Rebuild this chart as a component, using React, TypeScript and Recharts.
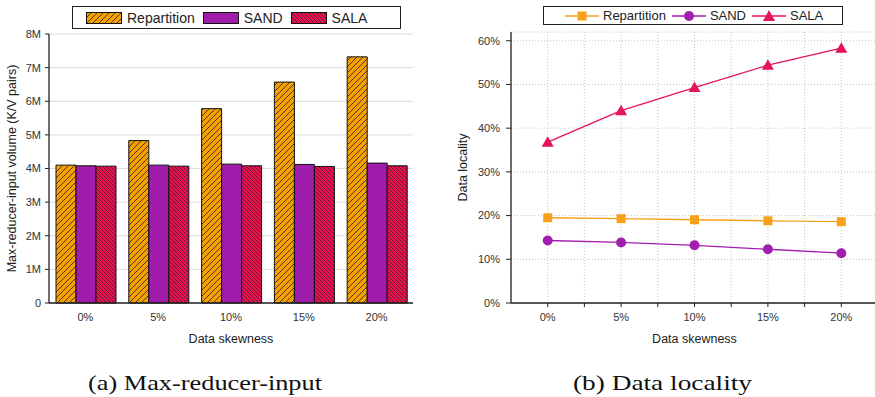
import React from 'react';
import {
  BarChart,
  Bar,
  LineChart,
  Line,
  XAxis,
  YAxis,
  CartesianGrid,
} from 'recharts';

// skew levels shared by both panels
const skewLevels = [0, 5, 10, 15, 20];
const skewLabels = ['0%', '5%', '10%', '15%', '20%'];

// (a) max reducer input, millions of K/V pairs
const repartitionVolume = [4.1, 4.83, 5.78, 6.57, 7.32];
const sandVolume = [4.08, 4.1, 4.13, 4.12, 4.16];
const salaVolume = [4.07, 4.07, 4.08, 4.06, 4.08];
const volumeTicks = [0, 1, 2, 3, 4, 5, 6, 7, 8];

// (b) data locality, percent
const repartitionLocality = [19.5, 19.3, 19.05, 18.8, 18.6];
const sandLocality = [14.3, 13.85, 13.2, 12.3, 11.4];
const salaLocality = [36.8, 44.0, 49.3, 54.4, 58.3];
const localityTicks = [0, 10, 20, 30, 40, 50, 60];
const skewGridTicks = [0, 2.5, 5, 7.5, 10, 12.5, 15, 17.5, 20, 22.5];

const ORANGE = '#F6A000';
const PURPLE = '#A01CAA';
const RED = '#E8104F';
const LINE_ORANGE = '#F7A11A';
const LINE_PURPLE = '#A21EB0';
const LINE_RED = '#E5135A';

const FONT = '"Liberation Sans", Arial, sans-serif';
const SERIF = '"Liberation Serif", "DejaVu Serif", serif';
const tickStyle = { fontSize: 11, fill: '#333', fontFamily: FONT };
const titleStyle = { fontSize: 12.5, fill: '#222', fontFamily: FONT };

const volumeData = skewLabels.map((name, i) => ({
  name,
  repartition: repartitionVolume[i],
  sand: sandVolume[i],
  sala: salaVolume[i],
}));

const localityData = skewLevels.map((skew, i) => ({
  skew,
  repartition: repartitionLocality[i],
  sand: sandLocality[i],
  sala: salaLocality[i],
}));

const SquareDot = (props: any) => {
  const { cx, cy, index } = props;
  return <rect key={`sq-${index}`} x={cx - 4.5} y={cy - 4.5} width={9} height={9} fill={LINE_ORANGE} />;
};

const TriangleDot = (props: any) => {
  const { cx, cy, index } = props;
  return (
    <polygon
      key={`tri-${index}`}
      points={`${cx},${cy - 6} ${cx - 6},${cy + 4.5} ${cx + 6},${cy + 4.5}`}
      fill={LINE_RED}
    />
  );
};

const Swatch = ({ fill }: { fill: string }) => (
  <svg width={36} height={12} style={{ display: 'block' }}>
    <rect x={0.5} y={0.5} width={35} height={11} fill={fill} stroke="#111" strokeWidth={1} />
  </svg>
);

const LineSwatch = ({ color, shape }: { color: string; shape: string }) => (
  <svg width={34} height={14} style={{ display: 'block' }}>
    <line x1={0} y1={7} x2={34} y2={7} stroke={color} strokeWidth={1.3} />
    {shape === 'square' && <rect x={12.5} y={2.5} width={9} height={9} fill={color} />}
    {shape === 'circle' && <circle cx={17} cy={7} r={5} fill={color} />}
    {shape === 'triangle' && <polygon points="17,1 11,12 23,12" fill={color} />}
  </svg>
);

export default function App() {
  return (
    <div
      style={{
        position: 'absolute',
        left: 0,
        top: 0,
        width: 875,
        height: 397,
        overflow: 'hidden',
        background: '#fff',
        fontFamily: FONT,
      }}
    >
      <svg width={0} height={0} style={{ position: 'absolute' }}>
        <defs>
          <pattern id="hatchOrange" patternUnits="userSpaceOnUse" width={6} height={6}>
            <rect width={6} height={6} fill={ORANGE} />
            <path d="M0,6 L6,0 M-1,1 L1,-1 M5,7 L7,5" stroke="#222" strokeWidth={0.8} />
          </pattern>
          <pattern id="hatchRed" patternUnits="userSpaceOnUse" width={4} height={4}>
            <rect width={4} height={4} fill={RED} />
            <path d="M0,0 L4,4 M-1,3 L1,5 M3,-1 L5,1" stroke="#222" strokeWidth={0.7} />
          </pattern>
        </defs>
      </svg>

      {/* (a) bars */}
      <div style={{ position: 'absolute', left: 0, top: 0 }}>
        <BarChart
          width={420}
          height={348}
          data={volumeData}
          margin={{ top: 34, right: 7, left: 0, bottom: 0 }}
          barCategoryGap={7}
          barGap={0}
        >
          <CartesianGrid vertical={false} stroke="#dcdcdc" strokeWidth={1} />
          <XAxis
            dataKey="name"
            height={45}
            tickLine={false}
            tickSize={5}
            tickMargin={5}
            tick={tickStyle}
            axisLine={{ stroke: '#222', strokeWidth: 1.3 }}
            label={{ value: 'Data skewness', position: 'insideBottom', offset: 5, style: titleStyle }}
          />
          <YAxis
            width={49}
            domain={[0, 8]}
            ticks={volumeTicks}
            interval={0}
            tickSize={4}
            tickMargin={4}
            tick={tickStyle}
            tickFormatter={(v: number) => (v === 0 ? '0' : `${v}M`)}
            axisLine={{ stroke: '#222', strokeWidth: 1.3 }}
            tickLine={{ stroke: '#222' }}
            label={{
              value: 'Max-reducer-input volume (K/V pairs)',
              angle: -90,
              position: 'insideLeft',
              offset: 12,
              style: { ...titleStyle, textAnchor: 'middle' },
            }}
          />
          <Bar dataKey="repartition" fill="url(#hatchOrange)" stroke="#111" strokeWidth={1} isAnimationActive={false} />
          <Bar dataKey="sand" fill={PURPLE} stroke="#111" strokeWidth={1} isAnimationActive={false} />
          <Bar dataKey="sala" fill="url(#hatchRed)" stroke="#111" strokeWidth={1} isAnimationActive={false} />
        </BarChart>
      </div>

      <div
        style={{
          position: 'absolute',
          left: 72,
          top: 6,
          width: 314,
          height: 21,
          border: '1px solid #222',
          display: 'flex',
          alignItems: 'center',
          paddingLeft: 13,
          boxSizing: 'content-box',
          fontSize: 14,
          color: '#222',
        }}
      >
        <Swatch fill="url(#hatchOrange)" />
        <span style={{ marginLeft: 5, marginRight: 8 }}>Repartition</span>
        <Swatch fill={PURPLE} />
        <span style={{ marginLeft: 5, marginRight: 8 }}>SAND</span>
        <Swatch fill="url(#hatchRed)" />
        <span style={{ marginLeft: 5 }}>SALA</span>
      </div>

      {/* (b) lines */}
      <div style={{ position: 'absolute', left: 440, top: 0 }}>
        <LineChart
          width={440}
          height={348}
          data={localityData}
          margin={{ top: 32, right: 2, left: 0, bottom: 0 }}
        >
          <CartesianGrid stroke="#c4c4c4" strokeDasharray="1 2" />
          <XAxis
            dataKey="skew"
            type="number"
            domain={[-2.5, 22.5]}
            ticks={skewGridTicks}
            interval={0}
            height={45}
            tickSize={4}
            tickMargin={6}
            tick={tickStyle}
            tickFormatter={(v: number) => (v % 5 === 0 ? `${v}%` : '')}
            axisLine={{ stroke: '#222', strokeWidth: 1.3 }}
            tickLine={{ stroke: '#222' }}
            label={{ value: 'Data skewness', position: 'insideBottom', offset: 5, style: titleStyle }}
          />
          <YAxis
            width={71}
            domain={[0, 62]}
            ticks={localityTicks}
            interval={0}
            tickSize={5}
            tickMargin={6}
            tick={tickStyle}
            tickFormatter={(v: number) => `${v}%`}
            axisLine={{ stroke: '#222', strokeWidth: 1.3 }}
            tickLine={{ stroke: '#222' }}
            label={{
              value: 'Data locality',
              angle: -90,
              position: 'insideLeft',
              offset: 23,
              style: { ...titleStyle, textAnchor: 'middle' },
            }}
          />
          <Line dataKey="repartition" stroke={LINE_ORANGE} strokeWidth={1.3} dot={SquareDot} isAnimationActive={false} />
          <Line
            dataKey="sand"
            stroke={LINE_PURPLE}
            strokeWidth={1.3}
            dot={{ r: 5, fill: LINE_PURPLE, stroke: LINE_PURPLE, strokeWidth: 0 }}
            isAnimationActive={false}
          />
          <Line dataKey="sala" stroke={LINE_RED} strokeWidth={1.3} dot={TriangleDot} isAnimationActive={false} />
        </LineChart>
      </div>

      <div
        style={{
          position: 'absolute',
          left: 543,
          top: 6,
          width: 300,
          height: 19,
          border: '1px solid #222',
          display: 'flex',
          alignItems: 'center',
          paddingLeft: 21,
          boxSizing: 'border-box',
          fontSize: 13,
          color: '#222',
        }}
      >
        <LineSwatch color={LINE_ORANGE} shape="square" />
        <span style={{ marginLeft: 4, marginRight: 6 }}>Repartition</span>
        <LineSwatch color={LINE_PURPLE} shape="circle" />
        <span style={{ marginLeft: 4, marginRight: 6 }}>SAND</span>
        <LineSwatch color={LINE_RED} shape="triangle" />
        <span style={{ marginLeft: 4 }}>SALA</span>
      </div>

      {/* captions, stretched to the wide serif look of the original */}
      <svg width={875} height={40} style={{ position: 'absolute', left: 0, top: 360 }}>
        <text
          x={88}
          y={30}
          fontFamily={SERIF}
          fontSize={22}
          fill="#111"
          textLength={234}
          lengthAdjust="spacingAndGlyphs"
        >
          (a) Max-reducer-input
        </text>
        <text
          x={573}
          y={30}
          fontFamily={SERIF}
          fontSize={22}
          fill="#111"
          textLength={179}
          lengthAdjust="spacingAndGlyphs"
        >
          (b) Data locality
        </text>
      </svg>
    </div>
  );
}
